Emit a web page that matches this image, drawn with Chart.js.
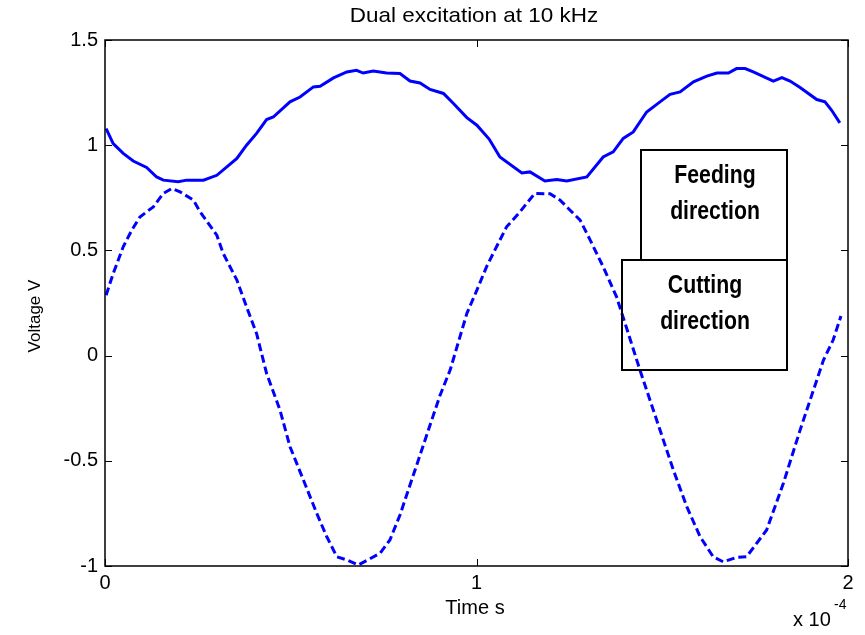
<!DOCTYPE html>
<html>
    <head>
        <meta charset="utf-8" />
        <title>Dual excitation at 10 kHz</title>
        <script src="https://cdn.jsdelivr.net/npm/chart.js@4.4.1/dist/chart.umd.min.js"></script>
        <style>
            body { margin: 0; background: #fff; }
            #wrap { width: 865px; height: 635px; }
        </style>
    </head>
    <body>
        <div id="wrap"><canvas id="myChart" width="865" height="635"></canvas></div>
        <script>
            // time axis in units of 1e-4 s
            const feedTime = [0.003, 0.022, 0.049, 0.076, 0.112, 0.139, 0.157, 0.197, 0.220, 0.265, 0.301, 0.328, 0.355, 0.381, 0.408, 0.435, 0.453, 0.498, 0.525, 0.561, 0.579, 0.615, 0.651, 0.677, 0.695, 0.722, 0.758, 0.794, 0.821, 0.848, 0.875, 0.911, 0.938, 0.974, 1.001, 1.034, 1.063, 1.122, 1.144, 1.184, 1.216, 1.243, 1.297, 1.341, 1.368, 1.395, 1.422, 1.458, 1.494, 1.521, 1.548, 1.584, 1.620, 1.647, 1.678, 1.700, 1.723, 1.745, 1.799, 1.822, 1.844, 1.871, 1.916, 1.938, 1.956, 1.978];
            const feedVolt = [1.079, 1.008, 0.961, 0.925, 0.894, 0.849, 0.834, 0.826, 0.834, 0.834, 0.857, 0.897, 0.937, 1.000, 1.056, 1.122, 1.134, 1.206, 1.229, 1.277, 1.280, 1.320, 1.348, 1.356, 1.343, 1.352, 1.343, 1.341, 1.305, 1.296, 1.265, 1.246, 1.198, 1.131, 1.095, 1.029, 0.944, 0.868, 0.873, 0.830, 0.837, 0.830, 0.849, 0.944, 0.968, 1.032, 1.063, 1.158, 1.206, 1.242, 1.253, 1.301, 1.328, 1.343, 1.343, 1.364, 1.364, 1.348, 1.305, 1.321, 1.305, 1.274, 1.217, 1.206, 1.166, 1.106];

            const cutTime = [0.003, 0.022, 0.049, 0.072, 0.094, 0.130, 0.157, 0.180, 0.202, 0.238, 0.256, 0.301, 0.318, 0.355, 0.381, 0.408, 0.435, 0.471, 0.498, 0.534, 0.570, 0.597, 0.624, 0.651, 0.682, 0.740, 0.767, 0.794, 0.821, 0.848, 0.875, 0.902, 0.929, 0.974, 1.001, 1.027, 1.045, 1.081, 1.117, 1.135, 1.157, 1.198, 1.225, 1.252, 1.279, 1.306, 1.341, 1.377, 1.404, 1.440, 1.494, 1.530, 1.566, 1.602, 1.637, 1.664, 1.700, 1.727, 1.781, 1.826, 1.871, 1.907, 1.934, 1.960, 1.981];
            const cutVolt = [0.287, 0.390, 0.517, 0.596, 0.659, 0.707, 0.771, 0.794, 0.778, 0.739, 0.683, 0.572, 0.486, 0.359, 0.232, 0.105, -0.085, -0.259, -0.433, -0.591, -0.750, -0.861, -0.956, -0.971, -0.995, -0.940, -0.876, -0.758, -0.615, -0.473, -0.330, -0.188, -0.069, 0.200, 0.311, 0.422, 0.486, 0.612, 0.683, 0.723, 0.771, 0.769, 0.739, 0.691, 0.644, 0.549, 0.422, 0.279, 0.131, -0.069, -0.354, -0.544, -0.718, -0.861, -0.956, -0.980, -0.959, -0.956, -0.829, -0.607, -0.354, -0.164, -0.021, 0.074, 0.188];

            const xTicks = [0, 1, 2];
            const xTickLabels = ["0", "1", "2"];
            const yTicks = [-1, -0.5, 0, 0.5, 1, 1.5];
            const yTickLabels = ["-1", "-0.5", "0", "0.5", "1", "1.5"];

            const font = "'Liberation Sans', Arial, sans-serif";

            function toPoints(xs, ys)
            {
                return xs.map((x, i) => ({ x: x, y: ys[i] }));
            }

            // text squeezed or stretched sideways
            function wideText(ctx, text, x, y, sx)
            {
                ctx.save();
                ctx.translate(x, y);
                ctx.scale(sx, 1);
                ctx.fillText(text, 0, 0);
                ctx.restore();
            }

            // matlab style frame, inner ticks and text
            const matlabFrame = {
                id: "matlabFrame",
                afterDraw(chart) {
                    let ctx = chart.ctx;
                    let a = chart.chartArea;
                    let xs = chart.scales.x;
                    let ys = chart.scales.y;
                    ctx.save();
                    ctx.strokeStyle = "#000";
                    ctx.lineWidth = 1.5;
                    ctx.strokeRect(a.left, a.top, a.right - a.left, a.bottom - a.top);

                    ctx.lineWidth = 1;
                    ctx.beginPath();
                    xTicks.forEach(v => {
                        let px = Math.round(xs.getPixelForValue(v)) + 0.5;
                        ctx.moveTo(px, a.bottom); ctx.lineTo(px, a.bottom - 7);
                        ctx.moveTo(px, a.top); ctx.lineTo(px, a.top + 7);
                    });
                    yTicks.forEach(v => {
                        let py = Math.round(ys.getPixelForValue(v)) + 0.5;
                        ctx.moveTo(a.left, py); ctx.lineTo(a.left + 7, py);
                        ctx.moveTo(a.right, py); ctx.lineTo(a.right - 7, py);
                    });
                    ctx.stroke();

                    ctx.fillStyle = "#000";
                    ctx.textAlign = "center";
                    ctx.textBaseline = "middle";
                    ctx.font = "21px " + font;
                    wideText(ctx, "Dual excitation at 10 kHz", 474, 16, 1.07);
                    ctx.font = "20px " + font;
                    ctx.fillText("Time s", 475, 608);

                    ctx.save();
                    ctx.translate(35, 316);
                    ctx.rotate(-Math.PI / 2);
                    ctx.font = "17px " + font;
                    ctx.fillText("Voltage V", 0, 0);
                    ctx.restore();

                    ctx.textAlign = "left";
                    ctx.font = "20px " + font;
                    ctx.fillText("x 10", 793, 620);
                    ctx.font = "14px " + font;
                    ctx.fillText("-4", 834, 605);

                    // direction boxes, outline only
                    ctx.lineWidth = 2;
                    ctx.strokeRect(641, 150, 146, 110);
                    ctx.strokeRect(622, 260, 165, 110);

                    ctx.textAlign = "center";
                    ctx.font = "bold 25px " + font;
                    wideText(ctx, "Feeding", 715, 176, 0.85);
                    wideText(ctx, "direction", 715, 212, 0.85);
                    wideText(ctx, "Cutting", 705, 286, 0.85);
                    wideText(ctx, "direction", 705, 322, 0.85);
                    ctx.restore();
                }
            };

            let chart = new Chart("myChart", {
                type: "scatter",
                data: {
                    datasets: [{
                        label: "Feeding direction",
                        data: toPoints(feedTime, feedVolt),
                        showLine: true,
                        borderColor: "#0000ff",
                        borderWidth: 3,
                        pointRadius: 0,
                        tension: 0
                    }, {
                        label: "Cutting direction",
                        data: toPoints(cutTime, cutVolt),
                        showLine: true,
                        borderColor: "#0000ff",
                        borderWidth: 3,
                        borderDash: [8, 4],
                        pointRadius: 0,
                        tension: 0
                    }]
                },
                options: {
                    responsive: false,
                    animation: false,
                    devicePixelRatio: 1,
                    layout: { padding: { top: 40, right: 17, left: 0, bottom: 0 } },
                    plugins: {
                        legend: { display: false },
                        tooltip: { enabled: false },
                        title: { display: false }
                    },
                    scales: {
                        x: {
                            type: "linear",
                            min: 0,
                            max: 2,
                            afterFit: s => { s.height = 69; },
                            afterBuildTicks: s => { s.ticks = xTicks.map(v => ({ value: v })); },
                            ticks: {
                                color: "#000",
                                font: { size: 20, family: font },
                                padding: 5,
                                maxRotation: 0,
                                callback: (v) => xTickLabels[xTicks.indexOf(v)]
                            },
                            grid: { display: false, drawTicks: false },
                            border: { display: false }
                        },
                        y: {
                            type: "linear",
                            min: -1,
                            max: 1.5,
                            afterFit: s => { s.width = 105; },
                            afterBuildTicks: s => { s.ticks = yTicks.map(v => ({ value: v })); },
                            ticks: {
                                color: "#000",
                                font: { size: 20, family: font },
                                padding: 7,
                                callback: (v) => yTickLabels[yTicks.indexOf(v)]
                            },
                            grid: { display: false, drawTicks: false },
                            border: { display: false }
                        }
                    }
                },
                plugins: [matlabFrame]
            });
        </script>
    </body>
</html>
